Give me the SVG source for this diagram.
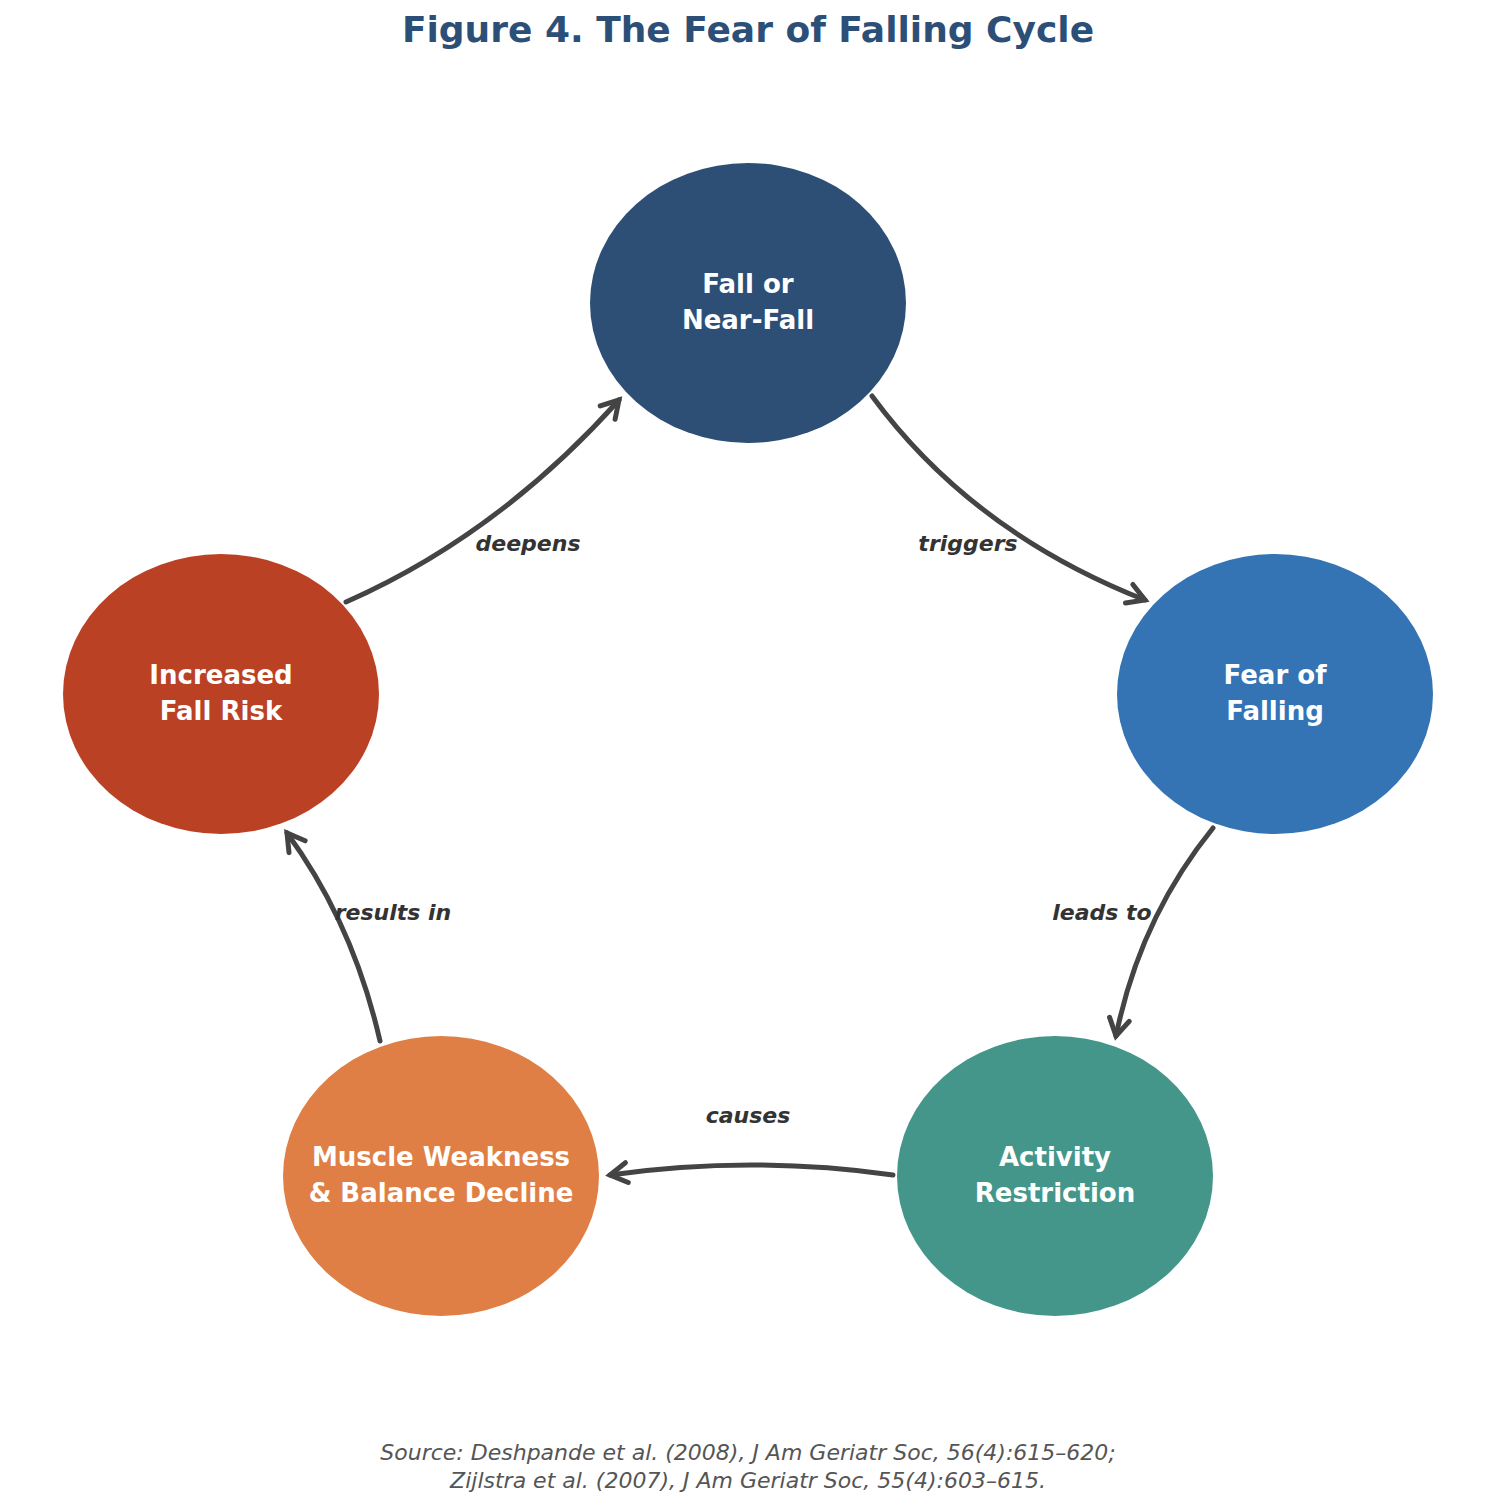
<svg xmlns="http://www.w3.org/2000/svg" width="1500" height="1508" viewBox="0 0 1500 1508">
<style>
.t{font-family:"DejaVu Sans",sans-serif;font-weight:bold;font-size:26px;fill:#fff;text-anchor:middle}
.l{font-family:"DejaVu Sans",sans-serif;font-weight:bold;font-style:italic;font-size:22px;fill:#333;text-anchor:middle}
.c{fill:none;stroke:#444;stroke-width:5;stroke-linecap:round}
.s{font-family:"DejaVu Sans",sans-serif;font-style:italic;font-size:22px;fill:#555;text-anchor:middle}
</style>
<defs>
<marker id="a" markerUnits="userSpaceOnUse" markerWidth="40" markerHeight="40" viewBox="-20 -20 40 40" refX="0" refY="0" orient="auto">
<path d="M-17,-10 L0,0 L-17,10" fill="none" stroke="#444" stroke-width="5" stroke-linecap="round" stroke-linejoin="miter"/>
</marker>
</defs>
<rect width="1500" height="1508" fill="#fff"/>
<text x="748" y="42" font-family="DejaVu Sans,sans-serif" font-weight="bold" font-size="36" fill="#2c4f78" text-anchor="middle">Figure 4. The Fear of Falling Cycle</text>
<g id="n1"><ellipse cx="748" cy="303" rx="158" ry="140" fill="#2d4f75"/><text class="t" x="748" y="293">Fall or</text><text class="t" x="748" y="329">Near-Fall</text></g>
<g id="n2"><ellipse cx="1275" cy="694" rx="158" ry="140" fill="#3474b4"/><text class="t" x="1275" y="684">Fear of</text><text class="t" x="1275" y="720">Falling</text></g>
<g id="n3"><ellipse cx="1055" cy="1176" rx="158" ry="140" fill="#45968a"/><text class="t" x="1055" y="1166">Activity</text><text class="t" x="1055" y="1202">Restriction</text></g>
<g id="n4"><ellipse cx="441" cy="1176" rx="158" ry="140" fill="#df7f46"/><text class="t" x="441" y="1166">Muscle Weakness</text><text class="t" x="441" y="1202">&amp; Balance Decline</text></g>
<g id="n5"><ellipse cx="221" cy="694" rx="158" ry="140" fill="#bb4124"/><text class="t" x="221" y="684">Increased</text><text class="t" x="221" y="720">Fall Risk</text></g>
<g id="connectors">
<path class="c" d="M872,396 Q972,532 1145,600" marker-end="url(#a)"/>
<path class="c" d="M1213,828 Q1140,918 1116,1036" marker-end="url(#a)"/>
<path class="c" d="M893,1175 Q751,1155 610,1175" marker-end="url(#a)"/>
<path class="c" d="M380,1041 Q353,923 287,833" marker-end="url(#a)"/>
<path class="c" d="M346,602 Q498,535 619,400" marker-end="url(#a)"/>
<text class="l" x="528" y="551">deepens</text>
<text class="l" x="968" y="551">triggers</text>
<text class="l" x="1102" y="920">leads to</text>
<text class="l" x="393" y="920">results in</text>
<text class="l" x="748" y="1123">causes</text>
</g>
<text class="s" x="748" y="1460">Source: Deshpande et al. (2008), J Am Geriatr Soc, 56(4):615–620;</text>
<text class="s" x="748" y="1488">Zijlstra et al. (2007), J Am Geriatr Soc, 55(4):603–615.</text>
</svg>
